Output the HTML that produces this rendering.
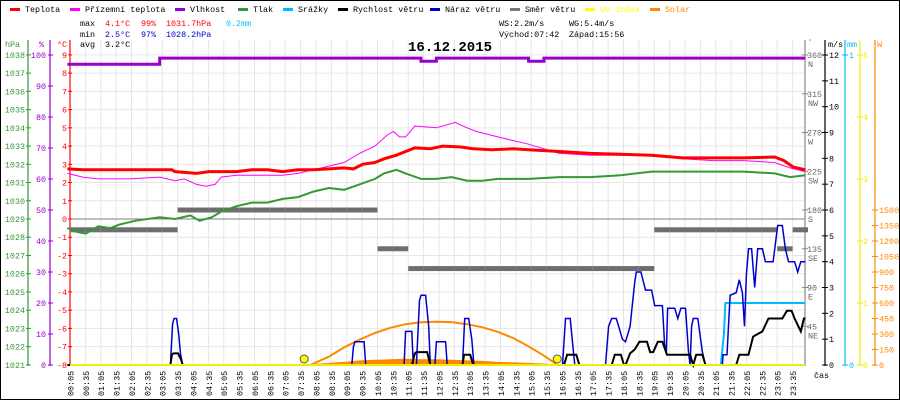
<!DOCTYPE html>
<html><head><meta charset="utf-8"><style>
html,body{margin:0;padding:0;background:#fff}
svg{display:block;font-family:"Liberation Mono",monospace}
</style></head><body>
<svg id="chart" width="900" height="400" viewBox="0 0 900 400" xmlns="http://www.w3.org/2000/svg">
<rect x="0.5" y="0.5" width="899" height="399" fill="#fff" stroke="#000"/>
<g id="grid"></g>
<g id="legend" font-size="8.4"></g>
<g font-size="8.4">
<text x="80" y="26">max</text><text x="105" y="26" fill="#f00">4.1°C</text><text x="141" y="26" fill="#f00">99%</text><text x="166" y="26" fill="#f00">1031.7hPa</text><text x="226" y="26" fill="#00bfff">0.2mm</text>
<text x="80" y="37">min</text><text x="105" y="37" fill="#00c">2.5°C</text><text x="141" y="37" fill="#00c">97%</text><text x="166" y="37" fill="#00c">1028.2hPa</text>
<text x="80" y="47">avg</text><text x="105" y="47">3.2°C</text>
<text x="499" y="26">WS:2.2m/s</text><text x="569" y="26">WG:5.4m/s</text>
<text x="499" y="37">Východ:07:42</text><text x="569" y="37">Západ:15:56</text>
</g>
<text x="450" y="51" text-anchor="middle" font-size="14" font-weight="bold">16.12.2015</text>
<g id="axes" font-size="8.4"></g>
<g id="marks"></g>
</svg>
<script>
const hours = [0,0.5,1,1.5,2,2.5,3,3.5,4,4.5,5,5.5,6,6.5,7,7.5,8,8.5,9,9.5,10,10.5,11,11.5,12,12.5,13,13.5,14,14.5,15,15.5,16,16.5,17,17.5,18,18.5,19,19.5,20,20.5,21,21.5,22,22.5,23,23.5];
const humidity = [97,97,97,97,97,97,99,99,99,99,99,99,99,99,99,99,99,99,99,99,99,99,99,98,99,99,99,99,99,99,98,99,99,99,99,99,99,99,99,99,99,99,99,99,99,99,99,99];
const direction = [157,157,157,157,157,157,157,180,180,180,180,180,180,180,180,180,180,180,180,180,135,135,112,112,112,112,112,112,112,112,112,112,112,112,112,112,112,112,157,157,157,157,157,157,157,157,135,157];
const tempT = [0,0.5,3.4,3.5,4.2,4.6,5.5,6,6.5,7,7.5,8,8.5,9,9.3,9.6,10,10.3,10.7,11,11.3,11.8,12.2,12.8,13.2,13.8,14.5,15,16,17,18,19,20,21,22,23,23.3,23.6,24];
const tempV = [2.75,2.7,2.7,2.6,2.5,2.6,2.6,2.7,2.7,2.6,2.7,2.7,2.75,2.8,2.75,3.0,3.1,3.3,3.5,3.7,3.9,3.85,4.0,3.95,3.85,3.8,3.85,3.8,3.7,3.6,3.55,3.5,3.35,3.35,3.35,3.4,3.2,2.85,2.7];
const appT = [0,0.5,1,2,3,3.5,3.8,4.2,4.5,4.8,5,5.5,6,7,7.5,8,8.5,9,9.5,10,10.4,10.6,10.8,11,11.3,12,12.6,13,13.3,14,14.5,15,16,17,18,19,20,21,22,23,23.5,24];
const appV = [2.5,2.3,2.2,2.2,2.3,2.1,2.2,1.9,1.8,1.9,2.3,2.4,2.4,2.4,2.5,2.7,2.9,3.1,3.6,4.0,4.6,4.8,4.5,4.5,5.1,5.0,5.3,5.0,4.8,4.5,4.3,4.1,3.6,3.5,3.5,3.5,3.3,3.2,3.2,3.1,2.8,2.6];
const presT = [0,0.3,0.6,1,1.4,1.7,2.2,3,3.5,4,4.3,4.7,5,5.5,6,6.5,7,7.5,8,8.5,9,9.5,10,10.3,10.7,11,11.5,12,12.5,13,13.5,14,15,16,17,18,19,20,21,22,23,23.5,24];
const presV = [1028.5,1028.3,1028.2,1028.6,1028.5,1028.7,1028.9,1029.1,1029.0,1029.2,1028.9,1029.1,1029.4,1029.7,1029.9,1029.9,1030.1,1030.2,1030.5,1030.7,1030.6,1030.9,1031.2,1031.5,1031.7,1031.5,1031.2,1031.2,1031.3,1031.1,1031.1,1031.2,1031.2,1031.3,1031.3,1031.4,1031.6,1031.6,1031.6,1031.6,1031.5,1031.3,1031.4];
const gustT = [0,3.35,3.42,3.47,3.55,3.62,3.68,3.75,9.25,9.3,9.35,9.65,9.7,10.95,11.0,11.2,11.25,11.35,11.45,11.5,11.65,11.75,11.8,11.95,12.0,12.3,12.35,12.85,12.92,13.05,13.15,13.22,16.1,16.2,16.35,16.45,16.5,17.5,17.6,17.7,17.85,17.95,18.05,18.15,18.3,18.45,18.5,18.65,18.8,19.0,19.1,19.35,19.42,19.48,19.52,19.75,19.85,19.95,20.1,20.2,20.25,20.3,20.35,20.5,20.65,20.75,21.3,21.32,21.45,21.55,21.75,21.85,21.95,22.02,22.08,22.15,22.25,22.35,22.45,22.6,22.7,22.95,23.1,23.25,23.35,23.45,23.65,23.75,23.85,24];
const gustV = [0,0,1.6,1.8,1.8,1.2,0.4,0,0,0.7,0.9,0.9,0,0,1.3,1.3,0,0,2.5,2.7,2.7,1.5,0,0,0.9,0.9,0,0,1.8,1.8,1.0,0,0,1.8,1.8,0.6,0,0,1.5,1.8,1.8,1.4,1.0,0.9,1.5,3.2,3.6,3.6,2.9,2.9,2.3,2.3,0.8,0.5,2.2,2.2,1.8,2.2,2.2,0.5,0,1.5,1.8,1.8,0.5,0,0,0.4,0.4,2.7,2.8,3.3,2.8,1.5,3.5,4.5,4.5,3.0,4.5,4.5,4.0,4.0,5.4,5.4,4.5,4.0,4.0,3.6,4.0,4.0];
const windT = [0,3.35,3.4,3.45,3.6,3.7,3.75,11.2,11.3,11.35,11.7,11.8,12.85,12.9,13.1,13.2,16.15,16.25,16.55,16.65,17.7,17.8,18.0,18.1,18.15,18.3,18.45,18.6,18.85,18.95,19.05,19.2,19.35,19.5,20.25,20.35,20.45,20.65,20.75,21.75,21.85,22.15,22.3,22.45,22.6,22.8,23.25,23.4,23.55,23.65,23.85,23.95,24];
const windV = [0,0,0.4,0.45,0.45,0.2,0,0,0.45,0.5,0.5,0,0,0.4,0.4,0,0,0.4,0.4,0,0,0.4,0.4,0,0,0.45,0.6,0.9,0.9,0.5,0.5,0.9,0.9,0.4,0.4,0,0.4,0.4,0,0,0.4,0.4,1.1,1.2,1.3,1.8,1.8,2.1,2.1,1.8,1.3,1.8,1.8];
const rainT = [0,21.25,21.35,21.4,24];
const rainV = [0,0,0.1,0.2,0.2];
const solarMaxT = [7.9,8.5,9,9.5,10,10.5,11,11.5,12,12.5,13,13.5,14,14.5,15,15.5,15.9];
const solarMaxV = [0,80,170,245,310,360,395,413,418,415,395,365,320,260,180,90,10];
const solarT = [7.9,8,8.5,9,9.5,10,10.5,11,11.5,12,12.5,13,13.5,14,14.5,15,15.5,16];
const solarV = [0,10,20,30,45,50,55,60,55,55,50,45,40,30,25,20,15,0];
const sunEvents = [7.7,15.93];
const hpaTicks = [1021,1022,1023,1024,1025,1026,1027,1028,1029,1030,1031,1032,1033,1034,1035,1036,1037,1038];
const pctTicks = [0,10,20,30,40,50,60,70,80,90,100];
const tempTicks = [-8,-7,-6,-5,-4,-3,-2,-1,0,1,2,3,4,5,6,7,8,9];
const dirTicks = [0,45,90,135,180,225,270,315,360];
const dirNames = ["","NE","E","SE","S","SW","W","NW","N"];
const msTicks = [0,1,2,3,4,5,6,7,8,9,10,11,12];
const uvTicks = [0,1,2,3,4,5];
const wTicks = [0,150,300,450,600,750,900,1050,1200,1350,1500];

const NS="http://www.w3.org/2000/svg";
const X0=67.4, PX=30.75, Y0=365, TOP=40, RIGHT=805;
const X=h=>X0+h*PX;
const yC=t=>219-t*18.235;
const yP=p=>219-(p-1029)*18.235;
const yH=v=>Y0-v*3.1;
const yWs=v=>Y0-v*25.833;
const yD=d=>Y0-d*0.8611;
const yMM=v=>Y0-v*310;
const yUV=v=>Y0-v*62;
const ySol=v=>Y0-v*0.10333;
function mk(tag,attrs,parent,txt){const e=document.createElementNS(NS,tag);for(const k in attrs)e.setAttribute(k,attrs[k]);if(txt!==undefined)e.textContent=txt;parent.appendChild(e);return e;}
const grid=document.getElementById('grid'),axes=document.getElementById('axes'),marks=document.getElementById('marks'),legend=document.getElementById('legend');

for(let i=0;i<49;i++){const x=X(i*0.5)+2.6;if(x>RIGHT)break;const l=mk('line',{x1:x,x2:x,y1:TOP,y2:Y0,stroke:'#e6e6e6'},grid);

}
tempTicks.forEach(t=>{const l=mk('line',{x1:70,x2:RIGHT,y1:yC(t),y2:yC(t),stroke:t===0?'#808080':'#e6e6e6'},grid);

});

const leg=[["Teplota","#f00"],["Přízemní teplota","#f0f"],["Vlhkost","#90c"],["Tlak","#393"],["Srážky","#0bf"],["Rychlost větru","#000"],["Náraz větru","#00c"],["Směr větru","#777"],["UV index","#ff0"],["Solar","#f80"]];
const legX=[10,70,175,238,283,338,430,510,585,650];
leg.forEach((d,i)=>{const g=mk('g',{},legend);


mk('rect',{x:legX[i],y:8,width:10,height:3,fill:d[1]},g);
mk('text',{x:legX[i]+15,y:12,fill:(i>=8?d[1]:'#000')},g,d[0]);});

const axLines=[[28,'#393'],[50,'#90c'],[70,'#f00']];
axLines.forEach(a=>{const l=mk('line',{x1:a[0],x2:a[0],y1:40,y2:Y0+1,stroke:a[1],'stroke-width':1.2},axes);

});
mk('text',{x:5,y:47,fill:'#393'},axes,'hPa');mk('text',{x:39,y:47,fill:'#90c'},axes,'%');mk('text',{x:57,y:47,fill:'#f00'},axes,'°C');
hpaTicks.forEach(v=>{const y=yP(v);mk('line',{x1:26,x2:31,y1:y,y2:y,stroke:'#393'},axes);const t=mk('text',{x:25,y:y+3,fill:'#393','text-anchor':'end'},axes,v);

});
pctTicks.forEach(v=>{const y=yH(v);mk('line',{x1:48,x2:53,y1:y,y2:y,stroke:'#90c'},axes);const t=mk('text',{x:46,y:y+3,fill:'#90c','text-anchor':'end'},axes,v);

});
tempTicks.forEach(v=>{const y=yC(v);mk('line',{x1:68,x2:72,y1:y,y2:y,stroke:'#f00'},axes);const t=mk('text',{x:67,y:y+3,fill:'#f00','text-anchor':'end'},axes,v);

});

[[RIGHT,'#888'],[825,'#000'],[845,'#0bf'],[860,'#ee0'],[875,'#f80']].forEach(a=>{const l=mk('line',{x1:a[0],x2:a[0],y1:40,y2:Y0+1,stroke:a[1],'stroke-width':1.2},axes);

});
mk('text',{x:808,y:44,fill:'#888','font-size':7},axes,'°');mk('text',{x:828,y:47},axes,'m/s');mk('text',{x:847,y:47,fill:'#0bf'},axes,'mm');mk('text',{x:877,y:47,fill:'#f80'},axes,'W');
dirTicks.forEach((v,i)=>{if(v===0)return;const y=yD(v);mk('line',{x1:RIGHT-3,x2:RIGHT+3,y1:y,y2:y,stroke:'#888'},axes);
const t=mk('text',{x:807,y:y+3,fill:'#666'},axes,v);


mk('text',{x:808,y:y+12,fill:'#666'},axes,dirNames[i]);});
msTicks.forEach(v=>{const y=yWs(v);mk('line',{x1:822,x2:828,y1:y,y2:y,stroke:'#000'},axes);const t=mk('text',{x:829,y:y+3},axes,v);

});
[0,1].forEach(v=>{const y=yMM(v);mk('line',{x1:842,x2:848,y1:y,y2:y,stroke:'#0bf'},axes);mk('text',{x:849,y:y+3,fill:'#0bf'},axes,v);});
uvTicks.forEach(v=>{const y=yUV(v);mk('line',{x1:857,x2:863,y1:y,y2:y,stroke:'#ee0'},axes);mk('text',{x:863,y:y+3,fill:'#ee0'},axes,v);});
wTicks.forEach(v=>{const y=ySol(v);mk('line',{x1:872,x2:878,y1:y,y2:y,stroke:'#f80'},axes);const t=mk('text',{x:879,y:y+3,fill:'#f80'},axes,v);

});
mk('text',{x:814,y:378},axes,'čas');

for(let i=0;i<48;i++){const h=i*0.5+5/60;const hh=Math.floor(h),mm=Math.round((h-hh)*60);
const lab=String(hh).padStart(2,'0')+':'+String(mm).padStart(2,'0');
const x=X(h)+3.5;const t=mk('text',{x:0,y:0,transform:`translate(${x},396) rotate(-90)`,'font-size':8.4},axes,lab);

}

function linePath(ts,vs,fx,fy){return ts.map((t,i)=>(i?'L':'M')+fx(t).toFixed(1)+','+fy(vs[i]).toFixed(1)).join('');}

{let d='M'+X(solarT[0])+','+Y0+solarT.map((t,i)=>'L'+X(t).toFixed(1)+','+ySol(solarV[i]).toFixed(1)).join('')+'L'+X(solarT[solarT.length-1])+','+Y0+'Z';
const p=mk('path',{d,fill:'#f80'},marks);

}
{const p=mk('path',{d:linePath(solarMaxT,solarMaxV,X,ySol),fill:'none',stroke:'#f80','stroke-width':2},marks);

}

{let d='';hours.forEach((h,i)=>{d+=(i?'L':'M')+X(h).toFixed(1)+','+yH(humidity[i]).toFixed(1)+'L'+X(h+0.5).toFixed(1)+','+yH(humidity[i]).toFixed(1);});
const p=mk('path',{d,fill:'none',stroke:'#90c','stroke-width':3},marks);

}

hours.forEach((h,i)=>{const y=yD(direction[i]);const r=mk('rect',{x:X(h)+2.6,y:y-2.5,width:PX/2,height:5,fill:'#6e6e6e'},marks);

});

{const p=mk('path',{d:linePath(presT,presV,X,yP),fill:'none',stroke:'#393','stroke-width':2},marks);

}
{const p=mk('path',{d:linePath(appT,appV,X,yC),fill:'none',stroke:'#f0f','stroke-width':1},marks);

}
{const p=mk('path',{d:linePath(tempT,tempV,X,yC),fill:'none',stroke:'#f00','stroke-width':3},marks);

}

{const p=mk('path',{d:linePath(rainT,rainV,X,yMM),fill:'none',stroke:'#0bf','stroke-width':2},marks);

}
{const p=mk('path',{d:linePath(gustT,gustV,X,yWs),fill:'none',stroke:'#00c','stroke-width':1.5},marks);

}
{const p=mk('path',{d:linePath(windT,windV,X,yWs),fill:'none',stroke:'#000','stroke-width':2},marks);

}
{const l=mk('line',{x1:70,x2:RIGHT,y1:Y0,y2:Y0,stroke:'#ee0','stroke-width':2},marks);

}
sunEvents.forEach(h=>{const c=mk('circle',{cx:X(h),cy:Y0-6,r:4,fill:'#ff0',stroke:'#555'},marks);

});
</script>
</body></html>
